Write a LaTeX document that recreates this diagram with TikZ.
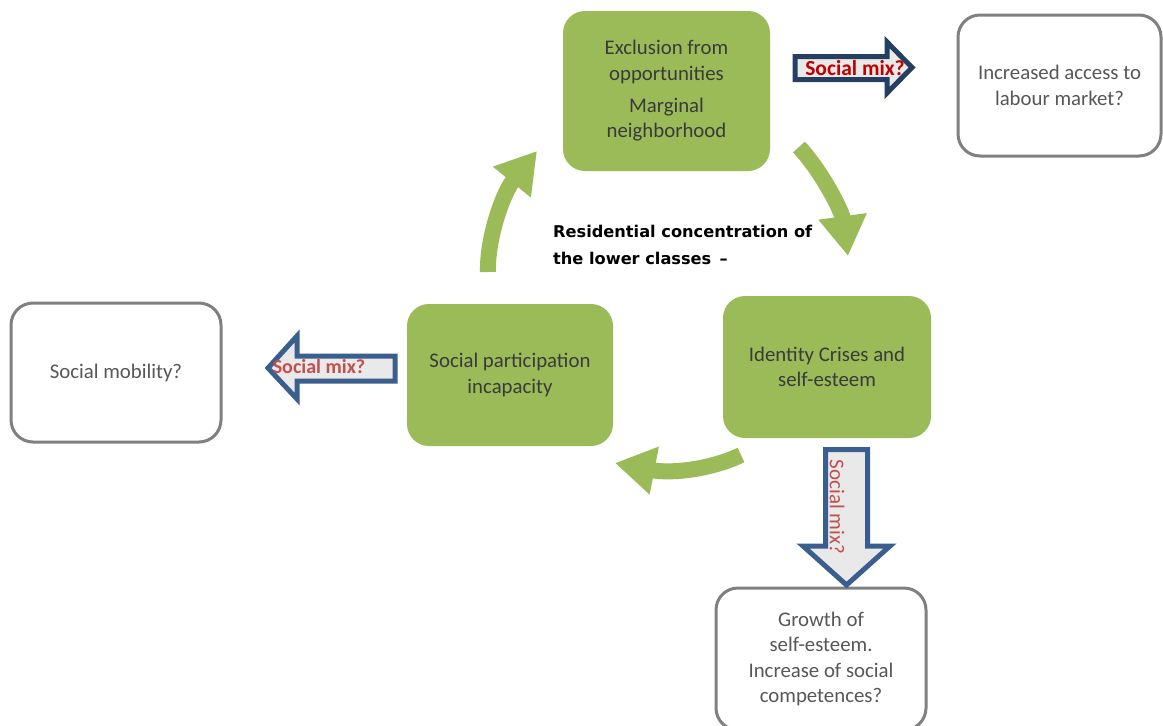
\documentclass[tikz,border=0pt]{standalone}
\usepackage{fontspec}
\setmainfont{Carlito}
\newfontfamily\headfont{DejaVu Sans}
\usetikzlibrary{arrows.meta}

\definecolor{leaf}{HTML}{9BBB59}
\definecolor{inktext}{HTML}{3A3A3A}
\definecolor{softtext}{HTML}{575757}
\definecolor{rimgray}{HTML}{808080}
\definecolor{navy}{HTML}{243F60}
\definecolor{steel}{HTML}{3A5F8E}
\definecolor{paleg}{HTML}{E9E9E9}
\definecolor{mixred}{HTML}{C00000}
\definecolor{mixrose}{HTML}{C0504D}

\tikzset{
  boxfont/.style={font=\fontsize{20.8}{25.3}\selectfont},
  greenbox/.style={rectangle, rounded corners=22, fill=leaf, draw=none,
    align=center, text=inktext, boxfont},
  graybox/.style={rectangle, rounded corners=22, fill=white, draw=rimgray,
    line width=3, align=center, text=softtext, boxfont},
  cyclearrow/.style={draw=leaf, line width=16,
    -{Triangle[width=46,length=40]}},
  blockarrow/.style={line width=5, fill=paleg, line join=miter},
  mixlabel/.style={font=\fontsize{20}{22}\selectfont\bfseries}
}

\begin{document}
\begin{tikzpicture}[x=1pt,y=-1pt]
\useasboundingbox (0,0) rectangle (1163,726);

% cycle boxes
\node[greenbox, minimum width=207, minimum height=160] (excl) at (666.5,91)
  {Exclusion from\\opportunities\\[7pt]Marginal\\neighborhood};
\node[greenbox, minimum width=208, minimum height=142] (ident) at (827,367)
  {Identity Crises and\\self-esteem};
\node[greenbox, minimum width=206, minimum height=142] (part) at (510,375)
  {Social participation\\incapacity};

% outcome boxes
\node[graybox, minimum width=203, minimum height=141] (labour) at (1059.5,85.5)
  {Increased access to\\labour market?};
\node[graybox, minimum width=210, minimum height=139] (mobil) at (116,372.5)
  {Social mobility?};
\node[graybox, minimum width=210, minimum height=142] (growth) at (821,659)
  {Growth of\\self-esteem.\\Increase of social\\competences?};

% central caption
\node[anchor=north west, align=left, inner sep=0,
  font=\headfont\bfseries\fontsize{16.2}{27}\selectfont] (caption) at (553,225)
  {Residential concentration of\\the lower classes \,–};

% curved arrows of the cycle
\coordinate (c1s) at (799,147);
\coordinate (c1e) at (848,256);
\coordinate (c2s) at (741,455);
\coordinate (c2e) at (615,463);
\coordinate (c3s) at (488,272);
\coordinate (c3e) at (537,151);
\draw[cyclearrow] (c1s) .. controls (823,173) and (842,212) .. (c1e);
\draw[cyclearrow] (c2s) .. controls (712,469) and (672,474) .. (c2e);
\draw[cyclearrow] (c3s) .. controls (487,238) and (503,193) .. (c3e);

% block arrows: social mix
\draw[blockarrow, draw=navy] (795,56.5) -- (887,56.5) -- (887,42) -- (912,67.5)
  -- (887,93) -- (887,79.5) -- (795,79.5) -- cycle;
\node[mixlabel, text=mixred, font=\fontsize{21.5}{22}\selectfont\bfseries]
  (mixr) at (855,68) {Social mix?};

\draw[blockarrow, draw=steel] (395,356) -- (297,356) -- (297,336) -- (268,368)
  -- (297,399) -- (297,381) -- (395,381) -- cycle;
\node[mixlabel, text=mixrose] (mixl) at (319,367) {Social mix?};

\draw[blockarrow, draw=steel] (825.5,449.5) -- (867.5,449.5) -- (867.5,546)
  -- (890,546) -- (846.5,585) -- (803,546) -- (825.5,546) -- cycle;
\node[text=mixrose, rotate=-90, font=\fontsize{21}{22}\selectfont]
  (mixd) at (837,507) {Social mix?};
\end{tikzpicture}
\end{document}
